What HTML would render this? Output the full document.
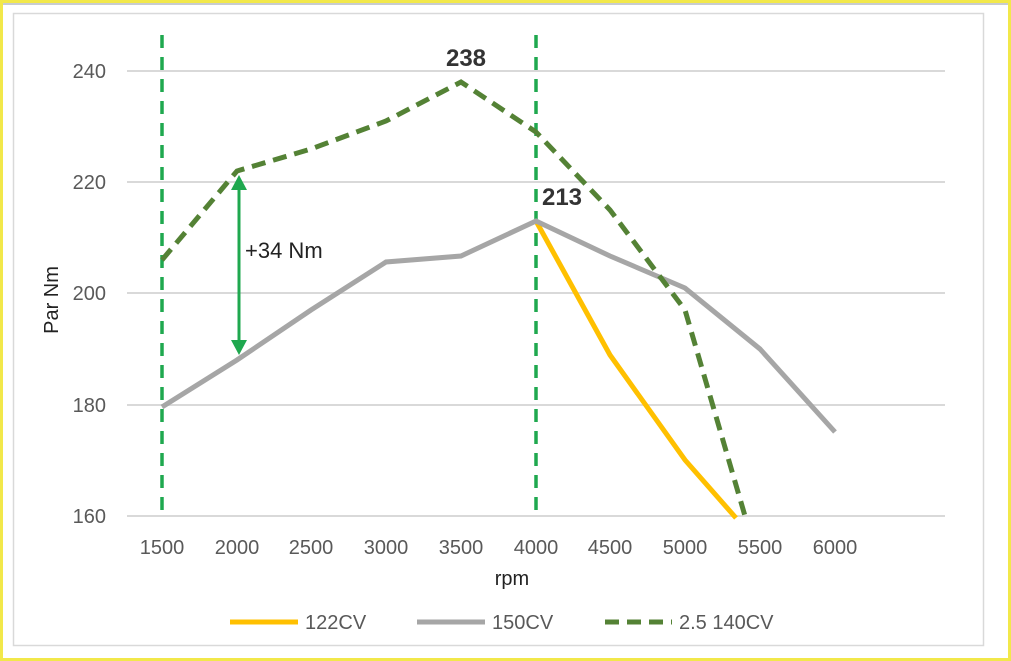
<!DOCTYPE html>
<html><head><meta charset="utf-8"><style>
html,body{margin:0;padding:0;background:#fff;}
svg{display:block;font-family:"Liberation Sans",sans-serif;}
</style></head><body>
<svg width="1011" height="661" viewBox="0 0 1011 661" xmlns="http://www.w3.org/2000/svg">
<rect x="0" y="0" width="1011" height="661" fill="#fff"/>
<rect x="1.5" y="1.5" width="1008" height="658" fill="none" stroke="#f2e84a" stroke-width="3"/>
<line x1="3" y1="4" x2="1008" y2="4" stroke="#c8ccd0" stroke-width="2"/>
<rect x="13.5" y="13.5" width="970" height="632" fill="none" stroke="#d9d9d9" stroke-width="1.5"/>
<g stroke="#d9d9d9" stroke-width="2">
<line x1="127" y1="71" x2="945" y2="71"/>
<line x1="127" y1="182" x2="945" y2="182"/>
<line x1="127" y1="293" x2="945" y2="293"/>
<line x1="127" y1="405" x2="945" y2="405"/>
<line x1="127" y1="516" x2="945" y2="516"/>
</g>
<g fill="#595959" font-size="20" text-anchor="end">
<text x="106" y="78">240</text>
<text x="106" y="189">220</text>
<text x="106" y="300">200</text>
<text x="106" y="412">180</text>
<text x="106" y="523">160</text>
</g>
<g fill="#595959" font-size="20" text-anchor="middle">
<text x="162" y="554">1500</text><text x="237" y="554">2000</text><text x="311" y="554">2500</text>
<text x="386" y="554">3000</text><text x="461" y="554">3500</text><text x="536" y="554">4000</text>
<text x="610" y="554">4500</text><text x="685" y="554">5000</text><text x="760" y="554">5500</text>
<text x="835" y="554">6000</text>
<text x="512" y="585" fill="#222">rpm</text>
<text transform="translate(58,300) rotate(-90)" fill="#222">Par Nm</text>
</g>
<g stroke="#1fa84f" stroke-width="3.5" stroke-dasharray="13,9">
<line x1="162" y1="35" x2="162" y2="516"/>
<line x1="536" y1="35" x2="536" y2="516"/>
</g>
<polyline points="536,221 610,355 685,460 736,518" fill="none" stroke="#ffc000" stroke-width="5"/>
<polyline points="162,407 237,360 311,310 386,262 461,256 536,221 610,256 685,288 760,349 835,432" fill="none" stroke="#a6a6a6" stroke-width="5"/>
<polyline points="162,260 237,171 311,149 386,121 461,82 536,132 610,210 685,310 745,516" fill="none" stroke="#548235" stroke-width="5" stroke-dasharray="14,8"/>
<line x1="239" y1="185" x2="239" y2="345" stroke="#1fa84f" stroke-width="3"/>
<polygon points="239,175 231,190 247,190" fill="#1fa84f"/>
<polygon points="239,355 231,340 247,340" fill="#1fa84f"/>
<text x="245" y="258" font-size="22" fill="#222">+34 Nm</text>
<text x="466" y="66" font-size="24" font-weight="bold" fill="#333" text-anchor="middle">238</text>
<text x="562" y="205" font-size="24" font-weight="bold" fill="#333" text-anchor="middle">213</text>
<line x1="230" y1="622" x2="298" y2="622" stroke="#ffc000" stroke-width="5"/>
<text x="305" y="629" font-size="20" fill="#595959">122CV</text>
<line x1="417" y1="622" x2="485" y2="622" stroke="#a6a6a6" stroke-width="5"/>
<text x="492" y="629" font-size="20" fill="#595959">150CV</text>
<line x1="605" y1="622" x2="672" y2="622" stroke="#548235" stroke-width="5" stroke-dasharray="14,8"/>
<text x="679" y="629" font-size="20" fill="#595959">2.5 140CV</text>
</svg>
</body></html>
